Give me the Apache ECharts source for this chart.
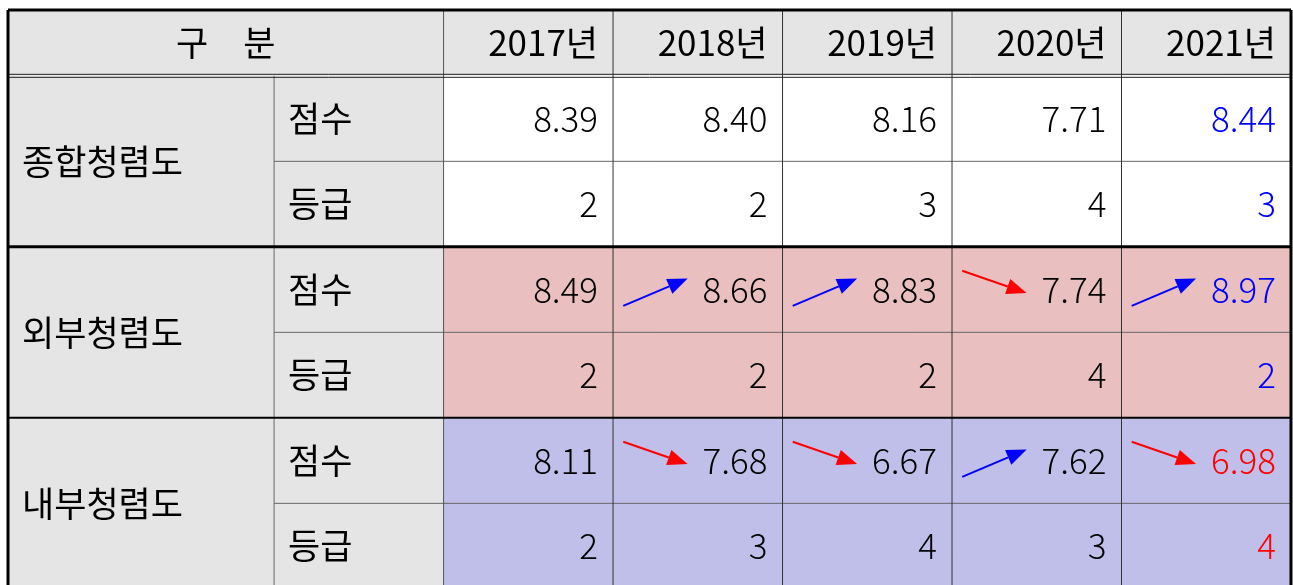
<!DOCTYPE html>
<html><head><meta charset="utf-8">
<script src="https://cdn.jsdelivr.net/npm/echarts@6/dist/echarts.min.js"></script>
<style>html,body{margin:0;padding:0;background:#fff}#c{width:1293px;height:585px}</style>
</head><body><div id="c"></div>
<script>
// ---- data ----
const headerLabel = '구　분';
const years = ['2017년', '2018년', '2019년', '2020년', '2021년'];
const groups = ['종합청렴도', '외부청렴도', '내부청렴도'];
const metrics = ['점수', '등급'];
const totalScore = [8.39, 8.40, 8.16, 7.71, 8.44];
const totalGrade = [2, 2, 3, 4, 3];
const externalScore = [8.49, 8.66, 8.83, 7.74, 8.97];
const externalGrade = [2, 2, 2, 4, 2];
const internalScore = [8.11, 7.68, 6.67, 7.62, 6.98];
const internalGrade = [2, 3, 4, 3, 4];

// ---- layout / style ----
const FONT = "'Noto Sans CJK KR', 'Noto Sans', sans-serif";
const FS = 35;
const colEdges = [0, 1.57, 2.57, 3.57, 4.57, 5.57, 6.57, 7.57];
const headH = 0.77;
const yMax = 6.725;
const labelFill = '#e5e5e5';
const groupFill = ['#ffffff', '#e9bfbf', '#bfbfe9'];
const showArrows = [false, true, true];
const UP = '#0000ff', DOWN = '#ff0000';

const scores = [totalScore, externalScore, internalScore];
const grades = [totalGrade, externalGrade, internalGrade];

const cells = [];
const arrows = [];
cells.push({x0: colEdges[0], x1: colEdges[2], y0: 0, y1: headH, text: headerLabel, fill: labelFill, align: 'center', color: '#000', weight: 400});
years.forEach((yr, j) => cells.push({x0: colEdges[2 + j], x1: colEdges[3 + j], y0: 0, y1: headH, text: yr, fill: labelFill, align: 'right', color: '#000', weight: 400}));
groups.forEach((g, gi) => {
  const y0 = headH + 2 * gi;
  cells.push({x0: colEdges[0], x1: colEdges[1], y0: y0, y1: y0 + 2, text: g, fill: labelFill, align: 'left', color: '#000', weight: 400});
  metrics.forEach((m, mi) => {
    const ry = y0 + mi;
    cells.push({x0: colEdges[1], x1: colEdges[2], y0: ry, y1: ry + 1, text: m, fill: labelFill, align: 'left', color: '#000', weight: 400});
    const vals = mi === 0 ? scores[gi] : grades[gi];
    vals.forEach((v, j) => {
      const s = scores[gi];
      const dir = j > 0 ? Math.sign(s[j] - s[j - 1]) : 0;
      const color = (j === vals.length - 1 && dir !== 0) ? (dir > 0 ? UP : DOWN) : '#000';
      cells.push({x0: colEdges[2 + j], x1: colEdges[3 + j], y0: ry, y1: ry + 1,
        text: mi === 0 ? v.toFixed(2) : String(v), fill: groupFill[gi], align: 'right', color: color, weight: 300});
      if (mi === 0 && showArrows[gi] && dir !== 0) {
        arrows.push({x0: colEdges[2 + j], x1: colEdges[3 + j], y0: ry, y1: ry + 1, dir: dir});
      }
    });
  });
});

// border segments: [x0, y0, x1, y1, width, color, pixelOffsetY]
const lines = [];
const xEnd = colEdges[colEdges.length - 1];
groups.forEach((g, gi) => {
  const y = headH + 2 * gi + 1;
  lines.push([colEdges[1], y, xEnd, y, 1, '#666', 0]);
});
lines.push([colEdges[1], headH, colEdges[1], yMax + 0.1, 1, '#666', 0]);
lines.push([colEdges[2], 0, colEdges[2], yMax + 0.1, 1, '#555', 0]);
for (let k = 3; k < colEdges.length - 1; k++) lines.push([colEdges[k], 0, colEdges[k], yMax + 0.1, 1, '#333', 0]);
lines.push([0, headH, xEnd, headH, 1, '#222', -1.5]);
lines.push([0, headH, xEnd, headH, 1, '#222', 1.5]);
lines.push([0, headH + 2, xEnd, headH + 2, 3, '#000', 0]);
lines.push([0, headH + 4, xEnd, headH + 4, 2, '#000', 0]);
lines.push([0, 0, xEnd, 0, 3, '#000', 0]);
lines.push([0, 0, 0, yMax + 0.1, 3, '#000', 0]);
lines.push([xEnd, 0, xEnd, yMax + 0.1, 3, '#000', 0]);

function cellRender(params, api) {
  const c = cells[params.dataIndex];
  const p0 = api.coord([c.x0, c.y0]);
  const p1 = api.coord([c.x1, c.y1]);
  const x = p0[0], y = p0[1], w = p1[0] - p0[0], h = p1[1] - p0[1];
  const tx = c.align === 'right' ? x + w - 15 : c.align === 'left' ? x + 14 : x + w / 2;
  return {type: 'group', children: [
    {type: 'rect', shape: {x: x, y: y, width: w, height: h}, style: {fill: c.fill}},
    {type: 'text', style: {text: c.text, x: tx, y: y + h / 2, fill: c.color, fontSize: FS, fontFamily: FONT, fontWeight: c.weight,
      align: c.align, textAlign: c.align, verticalAlign: 'middle', textVerticalAlign: 'middle'}}
  ]};
}

function arrowRender(params, api) {
  const a = arrows[params.dataIndex];
  const p0 = api.coord([a.x0, a.y0]);
  const p1 = api.coord([a.x1, a.y1]);
  const x = p0[0], y = p0[1], w = p1[0] - p0[0], h = p1[1] - p0[1];
  const up = a.dir > 0;
  const sx = x + 0.06 * w, ex = x + 0.44 * w;
  const sy = y + (up ? 0.69 : 0.28) * h, ey = y + (up ? 0.37 : 0.54) * h;
  const ang = Math.atan2(ey - sy, ex - sx);
  const L = 20, hw = 8;
  const bx = ex - L * Math.cos(ang), by = ey - L * Math.sin(ang);
  const col = up ? UP : DOWN;
  return {type: 'group', children: [
    {type: 'line', shape: {x1: sx, y1: sy, x2: bx, y2: by}, style: {stroke: col, lineWidth: 2}},
    {type: 'polygon', shape: {points: [[ex, ey], [bx + hw * Math.sin(ang), by - hw * Math.cos(ang)], [bx - hw * Math.sin(ang), by + hw * Math.cos(ang)]]}, style: {fill: col}}
  ]};
}

function lineRender(params, api) {
  const s = lines[params.dataIndex];
  const p0 = api.coord([s[0], s[1]]);
  const p1 = api.coord([s[2], s[3]]);
  return {type: 'line', shape: {x1: p0[0], y1: p0[1] + s[6], x2: p1[0], y2: p1[1] + s[6]}, style: {stroke: s[5], lineWidth: s[4]}};
}

const chart = echarts.init(document.getElementById('c'), null, {renderer: 'canvas'});
chart.setOption({
  animation: false,
  grid: {left: 8, right: 2, top: 10, bottom: 0},
  xAxis: {type: 'value', min: 0, max: xEnd, show: false},
  yAxis: {type: 'value', min: 0, max: yMax, inverse: true, show: false},
  series: [
    {type: 'custom', renderItem: cellRender, clip: false, silent: true, data: cells.map(c => [c.x0, c.y0])},
    {type: 'custom', renderItem: lineRender, clip: false, silent: true, data: lines.map(s => [s[0], s[1]])},
    {type: 'custom', renderItem: arrowRender, clip: false, silent: true, data: arrows.map(a => [a.x0, a.y0])}
  ]
});
</script>
</body></html>
